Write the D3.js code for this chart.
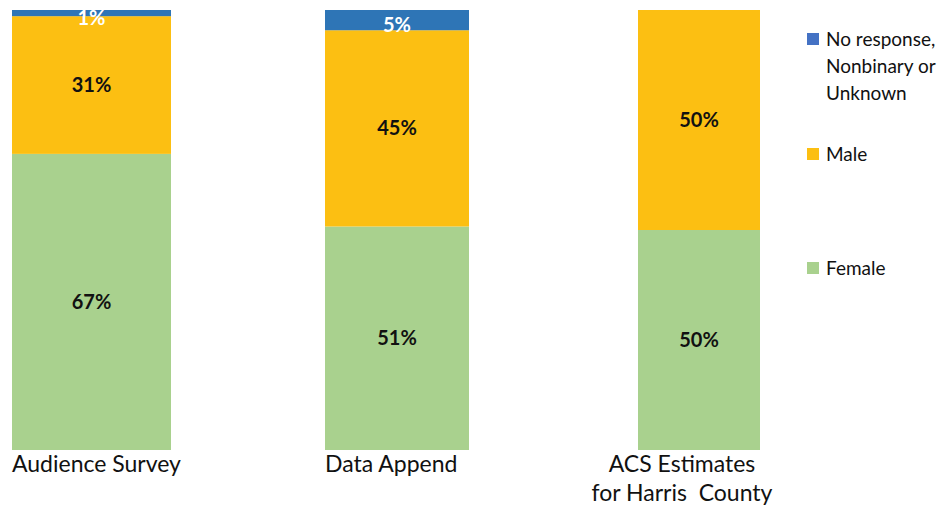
<!DOCTYPE html>
<html>
<head>
<meta charset="utf-8">
<script src="https://cdn.jsdelivr.net/npm/d3@7/dist/d3.min.js"></script>
<style>
  body { margin: 0; background: #fff; }
  svg { display: block; font-family: Lato, "Open Sans", sans-serif; }
</style>
</head>
<body>
<div id="chart"></div>
<script>
// categories (bars) and their labels, one entry per text line
var categories = ["Audience Survey", "Data Append", "ACS Estimates"];
var categoryLines = [["Audience Survey"], ["Data Append"], ["ACS Estimates", "for Harris  County"]];

// series, bottom to top
var seriesKeys = ["Female", "Male", "No response"];
var femaleValues = [67.3, 50.8, 50];
var maleValues = [31.3, 44.6, 50];
var noResponseValues = [1.4, 4.6, 0];

var legendLines = [["No response,", "Nonbinary or", "Unknown"], ["Male"], ["Female"]];

var width = 950, height = 510;

// colours
var barColor = { "Female": "#a9d18e", "Male": "#fcbf12", "No response": "#2e75b6" };
var legendColor = ["#4472c4", "#fcbf12", "#a9d18e"];
var labelColor = { "Female": "#111", "Male": "#111", "No response": "#fff" };

// build rows for the stack
var rows = categories.map(function(c, i) {
  return { cat: c, "Female": femaleValues[i], "Male": maleValues[i], "No response": noResponseValues[i] };
});

var stack = d3.stack().keys(seriesKeys);
var layers = stack(rows);

var svg = d3.select("#chart").append("svg")
  .attr("width", width)
  .attr("height", height);

// x positions: step of 313px from the left, bars of differing width (three pasted charts)
var x = d3.scaleBand().domain(categories).range([12, 12 + 313 * 3]).paddingInner(0).align(0);
var barW = { "Audience Survey": 159, "Data Append": 144, "ACS Estimates": 122 };

var y = d3.scaleLinear().domain([0, 100]).range([450, 10]);

var fmt = function(v) { return d3.format(".0f")(v) + "%"; };

// bars
var g = svg.selectAll(".layer")
  .data(layers)
  .enter()
  .append("g")
  .attr("class", "layer")
  .attr("fill", function(d) { return barColor[d.key]; });

g.selectAll("rect")
  .data(function(d) { return d; })
  .enter()
  .append("rect")
  .attr("x", function(d) { return x(d.data.cat); })
  .attr("width", function(d) { return barW[d.data.cat]; })
  .attr("y", function(d) { return y(d[1]); })
  .attr("height", function(d) { return y(d[0]) - y(d[1]); });

// value labels in the middle of each segment
layers.forEach(function(layer) {
  svg.append("g").selectAll("text")
    .data(layer.filter(function(d) { return d[1] - d[0] > 0; }))
    .enter()
    .append("text")
    .attr("x", function(d) { return x(d.data.cat) + barW[d.data.cat] / 2; })
    .attr("y", function(d) { return (y(d[0]) + y(d[1])) / 2; })
    .attr("dy", layer.key === "No response" ? "0.6em" : "0.35em")
    .attr("text-anchor", "middle")
    .attr("font-size", 20)
    .attr("font-weight", 700)
    .attr("fill", labelColor[layer.key])
    .text(function(d) { return fmt(d[1] - d[0]); });
});

// category labels under the bars
categories.forEach(function(c, i) {
  var lines = categoryLines[i];
  var multi = lines.length > 1;
  var t = svg.append("text")
    .attr("font-size", 23)
    .attr("fill", "#111")
    .attr("text-anchor", multi ? "middle" : "start");
  lines.forEach(function(line, j) {
    t.append("tspan")
      .attr("x", multi ? x(c) + 44 : x(c))
      .attr("y", 472 + j * 29)
      .attr("xml:space", "preserve")
      .text(line);
  });
});

// legend
var legendY = [33, 148, 262];
var legend = svg.append("g").attr("transform", "translate(807,0)");
legendLines.forEach(function(lines, i) {
  legend.append("rect")
    .attr("x", 0)
    .attr("y", legendY[i])
    .attr("width", 12)
    .attr("height", 12)
    .attr("fill", legendColor[i]);
  var t = legend.append("text")
    .attr("font-size", 19)
    .attr("fill", "#111");
  lines.forEach(function(line, j) {
    t.append("tspan")
      .attr("x", 19)
      .attr("y", legendY[i] + 13 + j * 27)
      .text(line);
  });
});
</script>
</body>
</html>
